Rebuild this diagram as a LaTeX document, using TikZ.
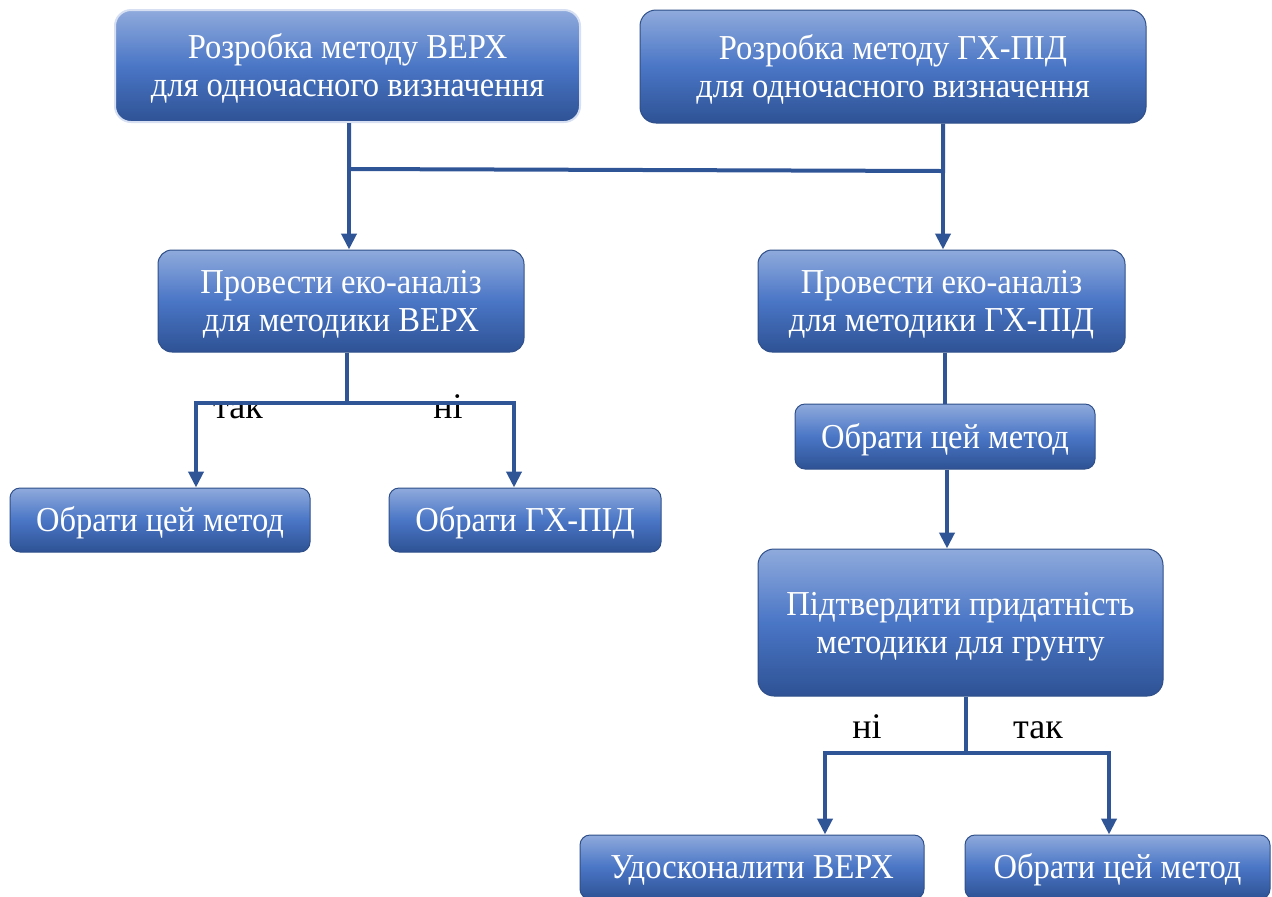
\documentclass[tikz,border=0pt]{standalone}
\usepackage{fontspec}
\setmainfont{Liberation Serif}[FakeStretch=0.93]
\newfontfamily\lblfont{Liberation Serif}
\usetikzlibrary{arrows.meta}
\definecolor{lineblue}{HTML}{2F5597}
\definecolor{topblue}{HTML}{8FAADC}
\definecolor{midblue}{HTML}{4A76C6}
\definecolor{botblue}{HTML}{2E5294}
\definecolor{edgeblue}{HTML}{2F4F8A}
\definecolor{glowblue}{HTML}{D6E0F2}
\newcommand\boxtext[1]{\raisebox{-2pt}[\height][\depth]{\begin{tabular}{@{}c@{}}#1\end{tabular}}}
\begin{document}
\begin{tikzpicture}[x=0.5pt,y=-0.5pt,
  box/.style={rectangle, rounded corners=5pt, top color=topblue, bottom color=botblue, middle color=midblue,
    draw=edgeblue, line width=0.5pt, text=white, align=center, inner sep=0pt,
    font=\fontsize{17.5}{19}\selectfont},
  bigbox/.style={box, rounded corners=8pt},
  lbl/.style={text=black, inner sep=0pt, anchor=base, font=\lblfont\fontsize{18}{20}\selectfont},
  conn/.style={draw=lineblue, line width=2pt, line join=miter},
  arr/.style={conn, -{Triangle[width=7.5pt,length=8pt]}}
]
\useasboundingbox (0,0) rectangle (1272,896);
\clip (0,0) rectangle (1272,896);

% boxes
\node[bigbox, draw=glowblue, line width=1pt, minimum width=232.5pt, minimum height=56pt] (A) at (347.5,66)
  {\boxtext{Розробка методу ВЕРХ\\для одночасного визначення}};
\node[bigbox, minimum width=253pt, minimum height=56.5pt] (B) at (893,66.5)
  {\boxtext{Розробка методу ГХ-ПІД\\для одночасного визначення}};
\node[box, rounded corners=7pt, minimum width=183pt, minimum height=51pt] (C) at (341,301)
  {\boxtext{Провести еко-аналіз\\для методики ВЕРХ}};
\node[box, rounded corners=7pt, minimum width=183.5pt, minimum height=51pt] (D) at (941.5,301)
  {\boxtext{Провести еко-аналіз\\для методики ГХ-ПІД}};
\node[box, minimum width=150pt, minimum height=32pt] (E) at (160,520) {\boxtext{Обрати цей метод}};
\node[box, minimum width=136pt, minimum height=32pt] (F) at (525,520) {\boxtext{Обрати ГХ-ПІД}};
\node[box, minimum width=150pt, minimum height=32.5pt] (G) at (945,436.5) {\boxtext{Обрати цей метод}};
\node[bigbox, minimum width=202.5pt, minimum height=73.5pt] (H) at (960.5,622.5)
  {\boxtext{Підтвердити придатність\\методики для грунту}};
\node[box, minimum width=172pt, minimum height=32pt] (I) at (752,867) {\boxtext{Удосконалити ВЕРХ}};
\node[box, minimum width=152.5pt, minimum height=32pt] (J) at (1117.5,867) {\boxtext{Обрати цей метод}};

% labels
\node[lbl] (t1) at (238,418) {так};
\node[lbl] (n1) at (448,418) {ні};
\node[lbl] (n2) at (867,738) {ні};
\node[lbl] (t2) at (1038,738) {так};

% top junction
\coordinate (j1) at (349,169);
\coordinate (j2) at (943,171);
\draw[conn] (j1 |- A.south) -- (j1) -- (j2) -- (j2 |- B.south);
\draw[arr] (j1) -- (j1 |- C.north);
\draw[arr] (j2) -- (j2 |- D.north);

% left split
\coordinate (k) at (347,403);
\coordinate (kl) at (196,403);
\coordinate (kr) at (514,403);
\draw[conn] (k |- C.south) -- (k);
\draw[arr] (k) -- (kl) -- (kl |- E.north);
\draw[arr] (k) -- (kr) -- (kr |- F.north);

% right chain
\coordinate (g1) at (945,0);
\draw[conn] (g1 |- D.south) -- (g1 |- G.north);
\coordinate (g2) at (947,0);
\draw[arr] (g2 |- G.south) -- (g2 |- H.north);

% bottom split
\coordinate (m) at (966,753);
\coordinate (ml) at (825,753);
\coordinate (mr) at (1109,753);
\draw[conn] (m |- H.south) -- (m);
\draw[arr] (m) -- (ml) -- (ml |- I.north);
\draw[arr] (m) -- (mr) -- (mr |- J.north);
\end{tikzpicture}
\end{document}
